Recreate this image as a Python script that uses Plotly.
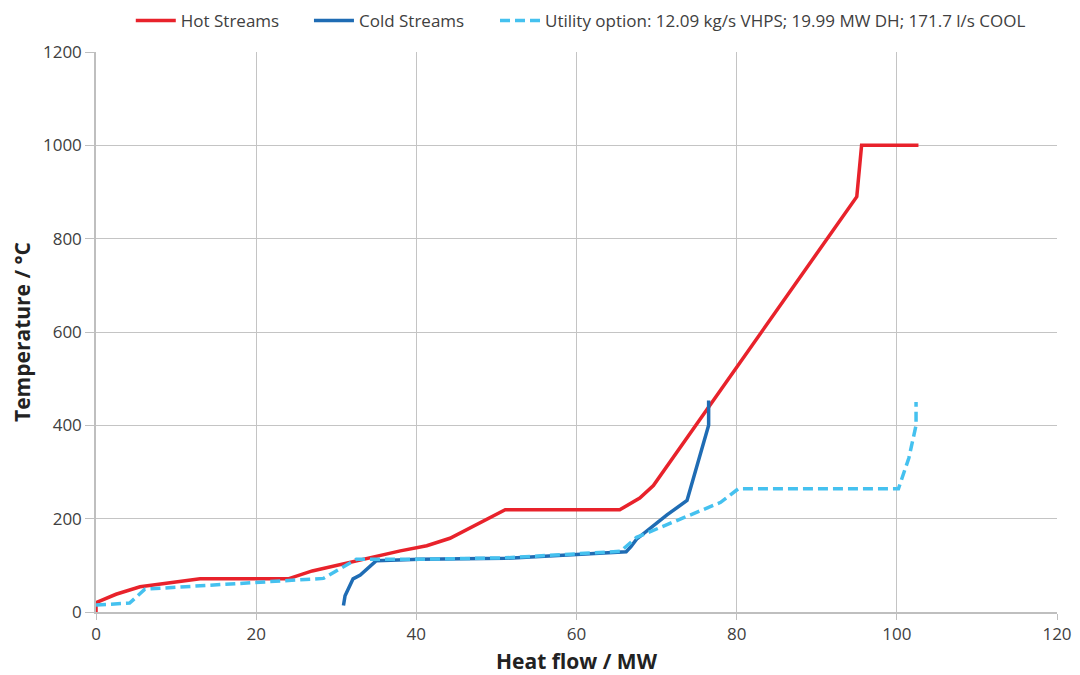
import plotly.graph_objects as go

hot_q = [0, 0, 2.5, 5.5, 13, 24, 27, 33, 38, 41.3, 44.2, 51.1, 65.4, 67.9, 69.6, 95.0, 95.6, 102.7]
hot_t = [0, 20, 38, 54, 71, 71, 88, 112, 131, 142, 158, 219, 219, 244, 271, 890, 1000, 1000]

cold_q = [30.9, 31.1, 32.1, 33.0, 35.0, 40.4, 51.1, 66.2, 66.8, 67.5, 71.3, 73.8, 76.5, 76.5]
cold_t = [14, 35, 71, 79, 110, 113, 115, 129, 140, 156, 208, 239, 400, 453]

util_q = [0, 4.2, 6.1, 13, 24, 28.4, 32.5, 40, 51, 65.5, 67.5, 78, 80.2, 100.2, 101.5, 102.4, 102.4]
util_t = [15, 19, 49, 56, 66, 72, 113, 113, 116, 130, 160, 235, 264, 264, 330, 400, 450]

x_ticks = [0, 20, 40, 60, 80, 100, 120]
y_ticks = [0, 200, 400, 600, 800, 1000, 1200]

fig = go.Figure()
fig.add_trace(go.Scatter(x=hot_q, y=hot_t, mode="lines", name="Hot Streams",
                         line=dict(color="#E8222B", width=3.5), legend="legend"))
fig.add_trace(go.Scatter(x=cold_q, y=cold_t, mode="lines", name="Cold Streams",
                         line=dict(color="#1F6CB4", width=3.5), legend="legend2"))
fig.add_trace(go.Scatter(x=util_q, y=util_t, mode="lines",
                         name="Utility option: 12.09 kg/s VHPS; 19.99 MW DH; 171.7 l/s COOL",
                         line=dict(color="#45C1EF", width=3.5, dash="10px,5px"), legend="legend3"))

font_family = "Open Sans, Noto Sans, sans-serif"
leg_common = dict(orientation="h", xanchor="left", yanchor="top", y=1.0875, itemwidth=40,
                  font=dict(size=17, color="#404040"), bgcolor="rgba(0,0,0,0)",
                  borderwidth=0)
fig.update_layout(
    width=1072, height=667,
    margin=dict(l=88, r=23, t=44, b=63, autoexpand=False),
    paper_bgcolor="white", plot_bgcolor="white",
    font=dict(family=font_family, size=17, color="#404040"),
    showlegend=True,
    legend=dict(x=0.0362, **leg_common),
    legend2=dict(x=0.2216, **leg_common),
    legend3=dict(x=0.4152, **leg_common),
    xaxis=dict(range=[0, 120], tickvals=x_ticks, showgrid=True, gridcolor="#C4C4C4", gridwidth=1,
               zeroline=False, showline=True, linecolor="#BFBFBF", linewidth=1.5,
               ticks="outside", tickcolor="#BFBFBF", ticklen=6, automargin=False,
               title=dict(text="<b>Heat flow / MW</b>", font=dict(size=21, color="#222222"), standoff=10),
               tickfont=dict(size=17, color="#404040")),
    yaxis=dict(range=[0, 1200], tickvals=y_ticks, showgrid=True, gridcolor="#C4C4C4", gridwidth=1,
               zeroline=False, showline=True, linecolor="#BFBFBF", linewidth=1.5,
               ticks="outside", tickcolor="#BFBFBF", ticklen=9, automargin=False,
               title=dict(text="<b>Temperature / °C</b>", font=dict(size=21, color="#222222"), standoff=14),
               tickfont=dict(size=17, color="#404040")),
)

fig.write_html("out.html")
